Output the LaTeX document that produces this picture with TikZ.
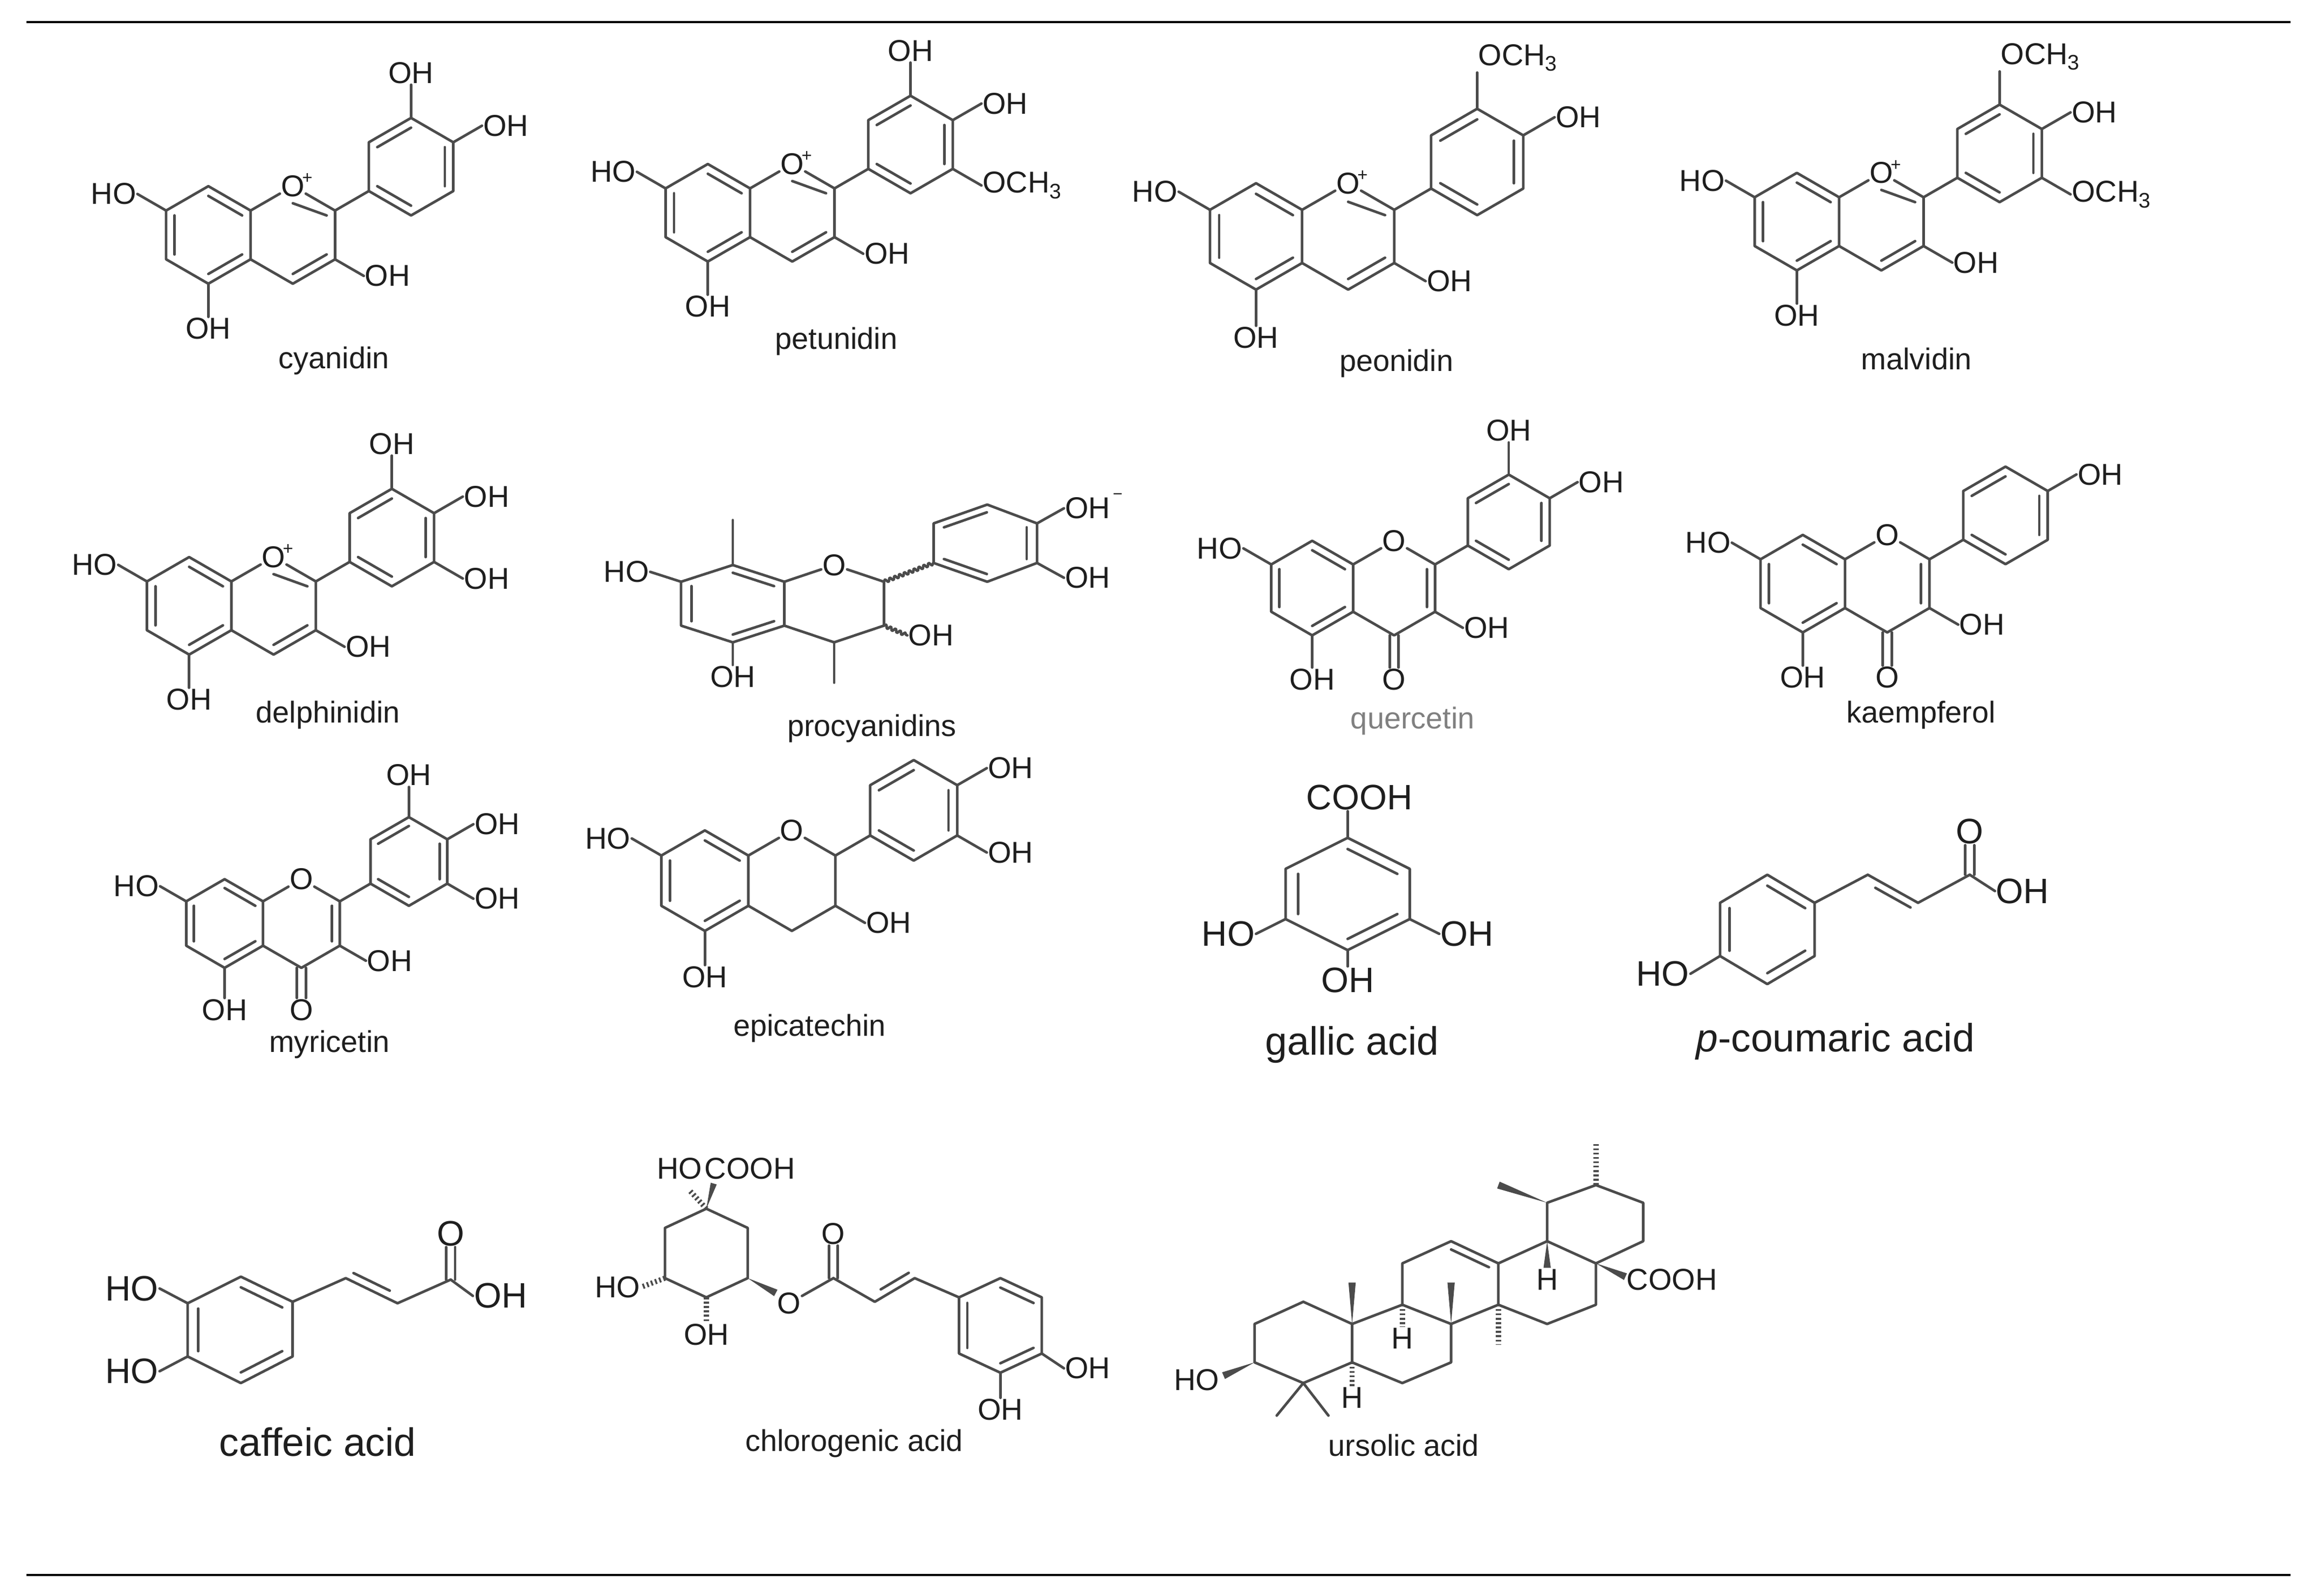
\documentclass[tikz,border=0pt]{standalone}
\usepackage{fontspec}
\setmainfont{Liberation Sans}
\usetikzlibrary{calc,decorations.pathmorphing}
\definecolor{bondc}{RGB}{75,75,75}
\definecolor{txtc}{RGB}{30,30,30}
\tikzset{
  bond/.style={line width=2.5pt,draw=bondc,line cap=round,line join=round},
  wavy/.style={bond,decorate,decoration={snake,segment length=5pt,amplitude=1.6pt}},
  hash/.style={line width=5pt,draw=bondc,dash pattern=on 1.8pt off 2.4pt},
  atom/.style={inner sep=1pt,text=txtc,font=\fontsize{29}{29}\selectfont},
  lab/.style={inner sep=1pt,text=txtc,font=\fontsize{29}{29}\selectfont},
  biglab/.style={inner sep=1pt,text=txtc,font=\fontsize{38}{38}\selectfont},
  bigatom/.style={inner sep=1pt,text=txtc,font=\fontsize{34}{34}\selectfont},
}
\def\R{33}
\newcommand\dbl[3]{\draw[bond] ($(#1)!0.2!(#3)$) -- ($(#2)!0.2!(#3)$);}
\newcommand\wdg[3]{\fill[bondc] (#1) -- ($(#2)!#3!90:(#1)$) -- ($(#2)!#3!-90:(#1)$) -- cycle;}
\newcommand\sub[5]{%
  \coordinate (#1e) at ($(#2)+(#3:{0.68*\R})$);
  \draw[bond] (#2) -- (#1e);
  \node[atom,anchor=#4] (#1) at (#1e) {#5};}
\newcommand\flav[4]{%
  \begin{scope}[shift={(#2,#3)}]
    \coordinate (#1ac) at (0,0);
    \foreach \a in {30,90,150,210,270,330}{\coordinate (#1a\a) at (\a:\R);}
    \coordinate (#1cc) at ({1.732*\R},0);
    \begin{scope}[shift={({1.732*\R},0)}]
      \foreach \a in {30,90,150,210,270,330}{\coordinate (#1c\a) at (\a:\R);}
    \end{scope}
  \end{scope}
  \coordinate (#1bc) at ($(#1c330)+(-30:{1.8*\R})$);
  \foreach \a in {30,90,150,210,270,330}{\coordinate (#1b\a) at ($(#1bc)+(\a:\R)$);}
  \draw[bond] (#1a30)--(#1a90)--(#1a150)--(#1a210)--(#1a270)--(#1a330)--cycle;
  \dbl{#1a150}{#1a210}{#1ac}\dbl{#1a270}{#1a330}{#1ac}\dbl{#1a30}{#1a90}{#1ac}
  \node[atom] (#1O) at (#1c270) {O};
  \draw[bond] (#1a330) -- (#1O);
  \draw[bond] (#1O) -- (#1c330) -- (#1c30) -- (#1c90) -- (#1a30);
  \ifnum#4=1
    \node[font=\fontsize{17}{17}\selectfont,text=txtc,inner sep=0pt] (#1Op) at ($(#1O.north east)+(1,3)$) {+};
    \draw[bond] ($(#1c270)!0.35!(#1cc)$) -- ($(#1c330)!0.2!(#1cc)$);
    \dbl{#1c30}{#1c90}{#1cc}
  \fi
  \ifnum#4=2
    \dbl{#1c330}{#1c30}{#1cc}
    \draw[bond] ($(#1c90)+(-3,0)$) -- ++(0,{0.68*\R});
    \draw[bond] ($(#1c90)+(3,0)$) -- ++(0,{0.68*\R});
    \node[atom,anchor=north] (#1Ok) at ($(#1c90)+(0,{0.68*\R})$) {O};
  \fi
  \draw[bond] (#1b30)--(#1b90)--(#1b150)--(#1b210)--(#1b270)--(#1b330)--cycle;
  \dbl{#1b210}{#1b270}{#1bc}\dbl{#1b330}{#1b30}{#1bc}\dbl{#1b90}{#1b150}{#1bc}
  \draw[bond] (#1c330) -- (#1b150);
  \sub{#1h7}{#1a210}{210}{east}{HO}
  \sub{#1h5}{#1a90}{90}{north}{OH}
  \sub{#1h3}{#1c30}{30}{west}{OH}
}
\begin{document}
\begin{tikzpicture}[x=0.05cm,y=-0.05cm]
\useasboundingbox (0,0) rectangle (1568,1080);
\fill[white] (0,0) rectangle (1568,1080);
\draw[line width=2pt] (18,15) -- (1550,15);
\draw[line width=2pt] (18,1066) -- (1550,1066);

% ---------- row 1
\def\R{33}\flav{cy}{141}{159}{1}
\sub{cyB3}{cyb270}{270}{south}{OH}
\sub{cyB4}{cyb330}{330}{west}{OH}
\node[lab] (cyl) at (226,244) {cyanidin};

\def\R{33}\flav{pt}{479}{144}{1}
\sub{ptB3}{ptb270}{270}{south}{OH}
\sub{ptB4}{ptb330}{330}{west}{OH}
\sub{ptB5}{ptb30}{30}{west}{OCH\textsubscript{3}}
\node[lab] (ptl) at (566,231) {petunidin};

\def\R{36}\flav{pe}{850}{160}{1}
\sub{peB3}{peb270}{270}{south west}{OCH\textsubscript{3}}
\sub{peB4}{peb330}{330}{west}{OH}
\node[lab] (pel) at (945,246) {peonidin};

\def\R{33}\flav{ma}{1216}{150}{1}
\sub{maB3}{mab270}{270}{south west}{OCH\textsubscript{3}}
\sub{maB4}{mab330}{330}{west}{OH}
\sub{maB5}{mab30}{30}{west}{OCH\textsubscript{3}}
\node[lab] (mal) at (1297,243) {malvidin};

% ---------- row 2
\def\R{33}\flav{de}{128}{410}{1}
\sub{deB3}{deb270}{270}{south}{OH}
\sub{deB4}{deb330}{330}{west}{OH}
\sub{deB5}{deb30}{30}{west}{OH}
\node[lab] (del) at (222,484) {delphinidin};

% procyanidins (explicit)
\coordinate (pa1) at (460.9,393.7); \coordinate (pa2) at (495.9,382.4);
\coordinate (pa3) at (530.8,393.7); \coordinate (pa4) at (530.8,423.4);
\coordinate (pa5) at (495.9,434.7); \coordinate (pa6) at (460.9,423.4);
\coordinate (pac) at (495.9,408.5);
\draw[bond] (pa1)--(pa2)--(pa3)--(pa4)--(pa5)--(pa6)--cycle;
\dbl{pa6}{pa1}{pac}\dbl{pa2}{pa3}{pac}\dbl{pa4}{pa5}{pac}
\node[atom] (pO) at (564.5,382.4) {O};
\coordinate (pc2) at (598.2,393.7); \coordinate (pc3) at (598.2,423.4);
\coordinate (pc4) at (564.5,434.7);
\draw[bond] (pa3)--(pO)--(pc2)--(pc3)--(pc4)--(pa4);
\coordinate (pme1) at (495.9,352); \draw[bond] (pa2)--(pme1);
\coordinate (pme2) at (564.5,462); \draw[bond] (pc4)--(pme2);
\coordinate (pho7e) at (440,387); \draw[bond] (pa1)--(pho7e);
\node[atom,anchor=east] (pho7) at (pho7e) {HO};
\coordinate (poh5e) at (495.9,450); \draw[bond] (pa5)--(poh5e);
\node[atom,anchor=north] (poh5) at (poh5e) {OH};
\coordinate (poh3e) at (614,430); \draw[wavy] (pc3)--(poh3e);
\node[atom,anchor=west] (poh3) at (poh3e) {OH};
\coordinate (pb1) at (631.8,381); \coordinate (pb2) at (631.8,354.2);
\coordinate (pb3) at (668.1,341.5); \coordinate (pb4) at (701.8,354.2);
\coordinate (pb5) at (701.8,381); \coordinate (pb6) at (668.1,393.7);
\coordinate (pbc) at (666.8,367.6);
\draw[wavy] (pc2)--(pb1);
\draw[bond] (pb1)--(pb2)--(pb3)--(pb4)--(pb5)--(pb6)--cycle;
\dbl{pb2}{pb3}{pbc}\dbl{pb4}{pb5}{pbc}\dbl{pb6}{pb1}{pbc}
\coordinate (pbo1e) at (720,344); \draw[bond] (pb4)--(pbo1e);
\node[atom,anchor=west] (pbo1) at (pbo1e) {OH};
\coordinate (pbo2e) at (720,391); \draw[bond] (pb5)--(pbo2e);
\node[atom,anchor=west] (pbo2) at (pbo2e) {OH};
\node[atom,anchor=west] (pminus) at (pbo1.north east) {\fontsize{16}{16}\selectfont −};
\node[lab] (pl) at (590,493) {procyanidins};

\def\R{32}\flav{qu}{888}{398}{2}
\sub{quB3}{qub270}{270}{south}{OH}
\sub{quB4}{qub330}{330}{west}{OH}
\node[lab,text=gray] (qul) at (956,488) {quercetin};

\def\R{33}\flav{ka}{1220}{395}{2}
\sub{kaB4}{kab330}{330}{west}{OH}
\node[lab] (kal) at (1300,484) {kaempferol};

% ---------- row 3
\def\R{30}\flav{my}{152}{625}{2}
\sub{myB3}{myb270}{270}{south}{OH}
\sub{myB4}{myb330}{330}{west}{OH}
\sub{myB5}{myb30}{30}{west}{OH}
\node[lab] (myl) at (223,707) {myricetin};

\def\R{34}\flav{ep}{477}{596}{3}
\sub{epB4}{epb330}{330}{west}{OH}
\sub{epB5}{epb30}{30}{west}{OH}
\node[lab] (epl) at (548,696) {epicatechin};

% gallic acid
\coordinate (g1) at (912,567); \coordinate (g2) at (954,588);
\coordinate (g3) at (954,622); \coordinate (g4) at (912,643);
\coordinate (g5) at (870,622); \coordinate (g6) at (870,588);
\coordinate (gc) at (912,605);
\draw[bond] (g1)--(g2)--(g3)--(g4)--(g5)--(g6)--cycle;
\dbl{g1}{g2}{gc}\dbl{g5}{g6}{gc}\dbl{g3}{g4}{gc}
\coordinate (gce) at (912,549); \draw[bond] (g1)--(gce);
\node[bigatom,anchor=south] (gcooh) at ($(gce)+(8,0)$) {COOH};
\coordinate (gho1e) at (850,632); \draw[bond] (g5)--(gho1e);
\node[bigatom,anchor=east] (gho1) at (gho1e) {HO};
\coordinate (gho2e) at (974,632); \draw[bond] (g3)--(gho2e);
\node[bigatom,anchor=west] (gho2) at (gho2e) {OH};
\coordinate (gho3e) at (912,654); \draw[bond] (g4)--(gho3e);
\node[bigatom,anchor=north] (gho3) at (gho3e) {OH};
\node[biglab] (gl) at (915,707) {gallic acid};

% p-coumaric acid
\coordinate (q1) at (1196,592); \coordinate (q2) at (1228,611);
\coordinate (q3) at (1228,647); \coordinate (q4) at (1196,666);
\coordinate (q5) at (1164,647); \coordinate (q6) at (1164,611);
\coordinate (qc) at (1196,629);
\draw[bond] (q1)--(q2)--(q3)--(q4)--(q5)--(q6)--cycle;
\dbl{q1}{q2}{qc}\dbl{q5}{q6}{qc}\dbl{q3}{q4}{qc}
\coordinate (qhoe) at (1144,659); \draw[bond] (q5)--(qhoe);
\node[bigatom,anchor=east] (qho) at (qhoe) {HO};
\coordinate (qv1) at (1264,592); \coordinate (qv2) at (1298,611);
\coordinate (qv3) at (1333,592);
\draw[bond] (q2)--(qv1)--(qv2)--(qv3);
\draw[bond] ($(qv1)!0.15!(qv2)+(0,6)$) -- ($(qv2)!0.15!(qv1)+(0,6)$);
\draw[bond] ($(qv3)+(-3,0)$) -- ++(0,-20); \draw[bond] ($(qv3)+(3,0)$) -- ++(0,-20);
\node[bigatom,anchor=south] (qO) at ($(qv3)+(0,-20)$) {O};
\coordinate (qohe) at (1350,603); \draw[bond] (qv3)--(qohe);
\node[bigatom,anchor=west] (qoh) at (qohe) {OH};
\node[biglab] (ql) at (1242,705) {\textit{p}-coumaric acid};

% ---------- row 4
% caffeic acid
\coordinate (k1) at (163,864); \coordinate (k2) at (198,881);
\coordinate (k3) at (198,918); \coordinate (k4) at (163,936);
\coordinate (k5) at (127,918); \coordinate (k6) at (127,882);
\coordinate (kc) at (163,900);
\draw[bond] (k1)--(k2)--(k3)--(k4)--(k5)--(k6)--cycle;
\dbl{k1}{k2}{kc}\dbl{k5}{k6}{kc}\dbl{k3}{k4}{kc}
\coordinate (kh1e) at (108,872); \draw[bond] (k6)--(kh1e);
\node[bigatom,anchor=east] (kh1) at (kh1e) {HO};
\coordinate (kh2e) at (108,928); \draw[bond] (k5)--(kh2e);
\node[bigatom,anchor=east] (kh2) at (kh2e) {HO};
\coordinate (kv1) at (234,865); \coordinate (kv2) at (269,882);
\coordinate (kv3) at (305,866);
\draw[bond] (k2)--(kv1)--(kv2)--(kv3);
\draw[bond] ($(kv1)!0.15!(kv2)+(0,-6)$) -- ($(kv2)!0.15!(kv1)+(0,-6)$);
\draw[bond] ($(kv3)+(-3,0)$) -- ++(0,-22); \draw[bond] ($(kv3)+(3,0)$) -- ++(0,-22);
\node[bigatom,anchor=south] (kO) at ($(kv3)+(0,-22)$) {O};
\coordinate (kohe) at (320,877); \draw[bond] (kv3)--(kohe);
\node[bigatom,anchor=west] (koh) at (kohe) {OH};
\node[biglab] (kl) at (215,976) {caffeic acid};

% chlorogenic acid
\coordinate (h1) at (478,818); \coordinate (h2) at (506,831);
\coordinate (h3) at (506,865); \coordinate (h4) at (478,878);
\coordinate (h5) at (450,865); \coordinate (h6) at (450,831);
\draw[bond] (h1)--(h2)--(h3)--(h4)--(h5)--(h6)--cycle;
\coordinate (hwc) at (483,801); \wdg{h1}{hwc}{3pt}
\node[atom,anchor=south west] (hcooh) at (476,799) {COOH};
\coordinate (hhc) at (467,806); \draw[hash] (h1)--(hhc);
\node[atom,anchor=south east] (hho1) at (476,799) {HO};
\coordinate (hh2) at (434,871); \draw[hash] (h5)--(hh2);
\node[atom,anchor=east] (hho2) at (hh2) {HO};
\coordinate (hh3) at (478,895); \draw[hash] (h4)--(hh3);
\node[atom,anchor=north] (hoh3) at (hh3) {OH};
\node[atom] (hO) at (534,882) {O};
\coordinate (hwo) at (525,875); \wdg{h3}{hwo}{3.5pt}
\coordinate (hcc) at (564,865);
\draw[bond] (hO)--(hcc);
\draw[bond] ($(hcc)+(-3,0)$) -- ++(0,-22); \draw[bond] ($(hcc)+(3,0)$) -- ++(0,-22);
\node[atom,anchor=south] (hO2) at ($(hcc)+(0,-22)$) {O};
\coordinate (hv1) at (592,881); \coordinate (hv2) at (619,865);
\coordinate (r1) at (649,878); \coordinate (r2) at (677,865);
\coordinate (r3) at (705,878); \coordinate (r4) at (705,916);
\coordinate (r5) at (677,929); \coordinate (r6) at (649,916);
\coordinate (rc) at (677,897);
\draw[bond] (hcc)--(hv1)--(hv2)--(r1);
\draw[bond] ($(hv1)!0.15!(hv2)+(0,-6)$) -- ($(hv2)!0.15!(hv1)+(0,-6)$);
\draw[bond] (r1)--(r2)--(r3)--(r4)--(r5)--(r6)--cycle;
\dbl{r2}{r3}{rc}\dbl{r4}{r5}{rc}\dbl{r6}{r1}{rc}
\coordinate (rho1e) at (720,926); \draw[bond] (r4)--(rho1e);
\node[atom,anchor=west] (rho1) at (rho1e) {OH};
\coordinate (rho2e) at (677,946); \draw[bond] (r5)--(rho2e);
\node[atom,anchor=north] (rho2) at (rho2e) {OH};
\node[lab] (hl) at (578,977) {chlorogenic acid};

% ursolic acid
\coordinate (ua1) at (849,896); \coordinate (ua2) at (882,881);
\coordinate (ua3) at (915,896); \coordinate (ua4) at (915,922);
\coordinate (ua5) at (882,936); \coordinate (ua6) at (849,922);
\coordinate (ub2) at (949,883); \coordinate (ub3) at (982,896);
\coordinate (ub4) at (982,922); \coordinate (ub5) at (949,936);
\coordinate (uc2) at (949,855); \coordinate (uc3) at (982,840);
\coordinate (uc4) at (1014,855); \coordinate (uc5) at (1014,883);
\coordinate (ud2) at (1047,840); \coordinate (ud3) at (1080,855);
\coordinate (ud4) at (1080,883); \coordinate (ud5) at (1047,896);
\coordinate (ue2) at (1047,814); \coordinate (ue3) at (1080,802);
\coordinate (ue4) at (1112,814); \coordinate (ue5) at (1112,840);
\coordinate (ucc) at (982,868);
\draw[bond] (ua1)--(ua2)--(ua3)--(ua4)--(ua5)--(ua6)--cycle;
\draw[bond] (ua3)--(ub2)--(ub3)--(ub4)--(ub5)--(ua4);
\draw[bond] (ub2)--(uc2)--(uc3)--(uc4)--(uc5)--(ub3);
\dbl{uc3}{uc4}{ucc}
\draw[bond] (uc4)--(ud2)--(ud3)--(ud4)--(ud5)--(uc5);
\draw[bond] (ud2)--(ue2)--(ue3)--(ue4)--(ue5)--(ud3);
\node[atom,anchor=east] (uho) at (826,934) {HO};
\coordinate (uhow) at (828,931); \wdg{ua6}{uhow}{3.5pt}
\coordinate (um1) at (864,958); \coordinate (um2) at (899,958);
\draw[bond] (ua5)--(um1); \draw[bond] (ua5)--(um2);
\coordinate (uh1) at (915,938); \draw[hash] (ua4)--(uh1);
\node[atom,anchor=north] (uH1) at (uh1) {H};
\coordinate (uw1) at (915,868); \wdg{ua3}{uw1}{3.5pt}
\coordinate (uh2) at (949,898); \draw[hash] (ub2)--(uh2);
\node[atom,anchor=north] (uH2) at (uh2) {H};
\coordinate (uw2) at (982,868); \wdg{ub3}{uw2}{3.5pt}
\coordinate (uh3) at (1014,910); \draw[hash] (uc5)--(uh3);
\coordinate (uw3) at (1047,858); \wdg{ud2}{uw3}{3.5pt}
\node[atom,anchor=north] (uH3) at (1047,858) {H};
\coordinate (uw4) at (1100,864); \wdg{ud3}{uw4}{3.5pt}
\node[atom,anchor=west] (ucooh) at (1100,866) {COOH};
\coordinate (uw5) at (1014,802); \wdg{ue2}{uw5}{3.5pt}
\coordinate (uh5) at (1080,774); \draw[hash] (ue3)--(uh5);
\node[lab] (ul) at (950,978) {ursolic acid};
\end{tikzpicture}
\end{document}
